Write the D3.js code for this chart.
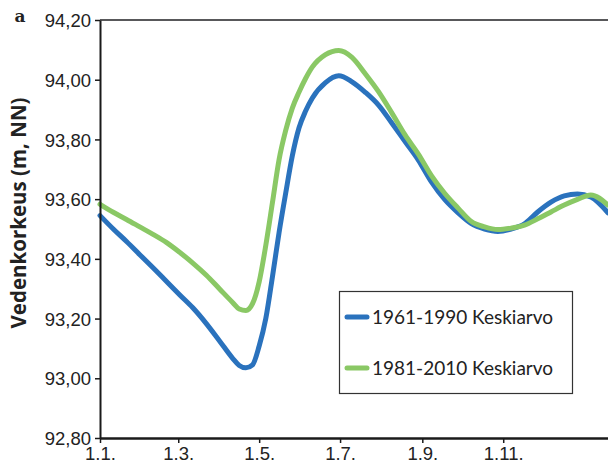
<!DOCTYPE html>
<html>
<head>
<meta charset="utf-8">
<script src="https://cdnjs.cloudflare.com/ajax/libs/d3/7.8.5/d3.min.js"></script>
<style>
  body { margin: 0; background: #fff; }
  svg { display: block; font-family: Lato, "Open Sans", sans-serif; }
</style>
</head>
<body>
<div id="chart"></div>
<script>
// paivat vuoden alusta (1.1. = 0)
const paivat = [0, 10, 20, 30, 40, 50, 60, 70, 80, 90, 100, 105, 110, 115, 120, 125, 130, 135, 140, 145,
  150, 155, 160, 170, 180, 190, 200, 210, 220, 230, 240, 250, 260, 270, 280, 290, 300, 310, 320, 330,
  340, 350, 360, 370, 383];

// 1961-1990 keskiarvo
const taso6190 = [93.545, 93.50, 93.458, 93.414, 93.37, 93.325, 93.28, 93.236, 93.184, 93.126, 93.067, 93.043, 93.035, 93.045, 93.108, 93.20, 93.34, 93.488, 93.62, 93.745,
  93.838, 93.895, 93.938, 93.99, 94.013, 93.993, 93.958, 93.915, 93.855, 93.793, 93.731, 93.657, 93.598, 93.554, 93.518, 93.50, 93.492, 93.50, 93.517, 93.557,
  93.59, 93.611, 93.617, 93.607, 93.554];

// 1981-2010 keskiarvo
const taso8110 = [93.583, 93.556, 93.532, 93.507, 93.482, 93.455, 93.422, 93.386, 93.346, 93.30, 93.254, 93.232, 93.227, 93.25, 93.323, 93.445, 93.588, 93.732, 93.83, 93.905,
  93.958, 94.004, 94.042, 94.084, 94.098, 94.075, 94.02, 93.96, 93.889, 93.815, 93.751, 93.678, 93.619, 93.57, 93.525, 93.507, 93.498, 93.503, 93.513, 93.534,
  93.557, 93.58, 93.599, 93.614, 93.58];

const sarjat = ["1961-1990 Keskiarvo", "1981-2010 Keskiarvo"];
const varit = ["#2a72bd", "#8ac865"];

const yTicks = [92.8, 93.0, 93.2, 93.4, 93.6, 93.8, 94.0, 94.2];
const xTickPaivat = [0, 59, 120, 181, 243, 304];
const xTickNimet = ["1.1.", "1.3.", "1.5.", "1.7.", "1.9.", "1.11."];

const W = 608, H = 470;
const svg = d3.select("#chart").append("svg").attr("width", W).attr("height", H);

const x = d3.scaleLinear().domain([0, 383]).range([100, 608]);
const y = d3.scaleLinear().domain([92.8, 94.2]).range([438, 20]);

const pilkku = d => d.toFixed(2).replace(".", ",");

// ylareunan viiva (94,20)
svg.append("line")
  .attr("x1", 100).attr("x2", W)
  .attr("y1", y(94.2)).attr("y2", y(94.2))
  .attr("stroke", "#58585a").attr("stroke-width", 2);

// sarjat
const viiva = d3.line()
  .x((d, i) => x(paivat[i]))
  .y(d => y(d))
  .curve(d3.curveMonotoneX);

[taso6190, taso8110].forEach((s, k) => {
  svg.append("path")
    .datum(s)
    .attr("d", viiva)
    .attr("fill", "none")
    .attr("stroke", varit[k])
    .attr("stroke-width", 5)
    .attr("stroke-linejoin", "round")
    .attr("stroke-linecap", "round");
});

// y-akseli
const yAx = svg.append("g")
  .attr("transform", "translate(100,0)")
  .call(d3.axisLeft(y).tickValues(yTicks).tickFormat(pilkku).tickSize(5).tickSizeOuter(0));
yAx.select(".domain").attr("stroke", "#1a1a1a").attr("stroke-width", 2);
yAx.selectAll(".tick line").attr("stroke", "#1a1a1a").attr("stroke-width", 1.5);
yAx.selectAll(".tick text")
  .attr("x", -9)
  .attr("dy", "0.36em")
  .attr("fill", "#222")
  .style("font-size", "18.5px");

// x-akseli
const xAx = svg.append("g")
  .attr("transform", "translate(0,438)")
  .call(d3.axisBottom(x).tickValues(xTickPaivat).tickFormat((d, i) => xTickNimet[i]).tickSize(5).tickSizeOuter(0));
xAx.select(".domain").attr("stroke", "#1a1a1a").attr("stroke-width", 2.5);
xAx.selectAll(".tick line").attr("stroke", "#1a1a1a").attr("stroke-width", 1.5);
xAx.selectAll(".tick text")
  .attr("y", 9)
  .attr("dy", "0.71em")
  .attr("fill", "#222")
  .style("font-size", "18.5px");

// akselin otsikko
svg.append("text")
  .attr("transform", "translate(26,213) rotate(-90)")
  .attr("text-anchor", "middle")
  .attr("font-family", "'Open Sans', 'DejaVu Sans', sans-serif")
  .attr("font-weight", "bold")
  .attr("font-size", "20.5px")
  .attr("fill", "#222")
  .text("Vedenkorkeus (m, NN)");

// kirjain a
svg.append("text")
  .attr("x", 20).attr("y", 22)
  .attr("text-anchor", "middle")
  .attr("font-family", "'DejaVu Serif', serif")
  .attr("font-weight", "bold")
  .attr("font-size", "17px")
  .attr("fill", "#222")
  .text("a");

// selite
const leg = svg.append("g");
leg.append("rect")
  .attr("x", 339.5).attr("y", 291.5)
  .attr("width", 233).attr("height", 102)
  .attr("fill", "#fff")
  .attr("stroke", "#333").attr("stroke-width", 1.2);

sarjat.forEach((nimi, k) => {
  const yy = 317 + k * 51;
  leg.append("line")
    .attr("x1", 347).attr("x2", 367)
    .attr("y1", yy).attr("y2", yy)
    .attr("stroke", varit[k]).attr("stroke-width", 5)
    .attr("stroke-linecap", "round");
  leg.append("text")
    .attr("x", 372).attr("y", yy)
    .attr("dy", "0.36em")
    .attr("font-size", "19px")
    .attr("fill", "#222")
    .text(nimi);
});
</script>
</body>
</html>
